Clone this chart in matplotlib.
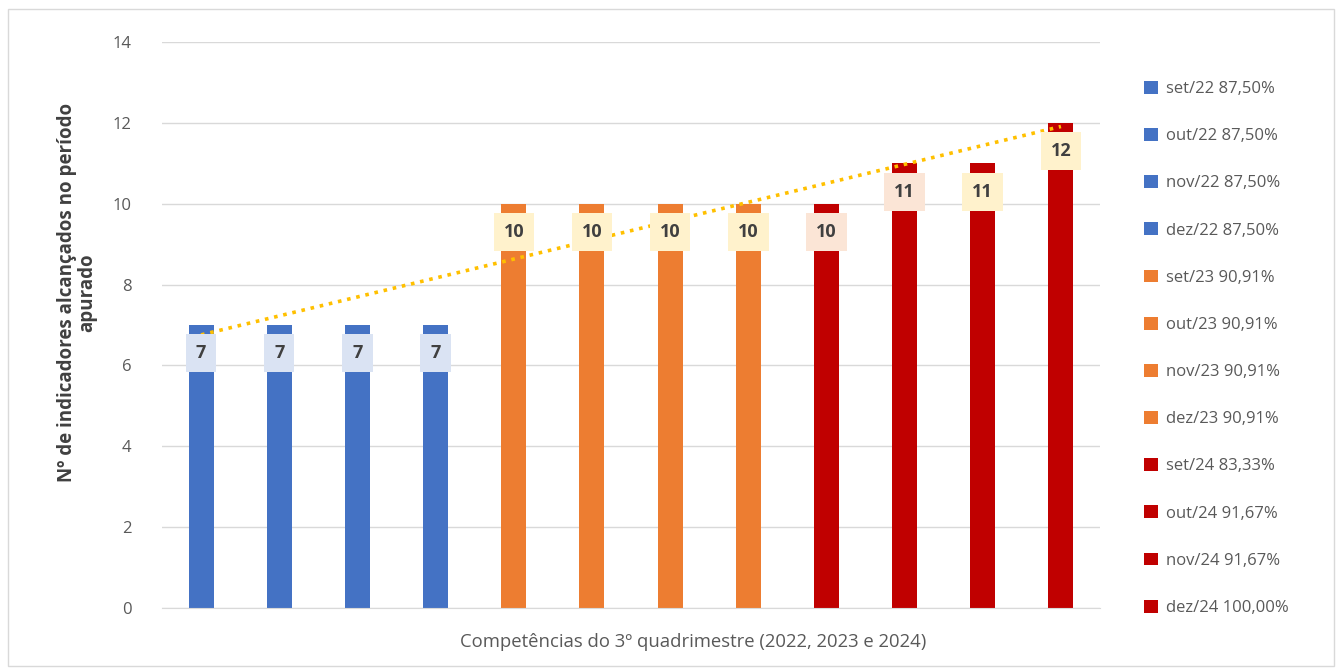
import matplotlib
matplotlib.use("Agg")
import matplotlib.pyplot as plt
import numpy as np
from matplotlib.patches import Patch, Rectangle

months = ["set/22", "out/22", "nov/22", "dez/22",
          "set/23", "out/23", "nov/23", "dez/23",
          "set/24", "out/24", "nov/24", "dez/24"]
percents = ["87,50%", "87,50%", "87,50%", "87,50%",
            "90,91%", "90,91%", "90,91%", "90,91%",
            "83,33%", "91,67%", "91,67%", "100,00%"]
values = [7, 7, 7, 7, 10, 10, 10, 10, 10, 11, 11, 12]
bar_colors = ["#4472c4"] * 4 + ["#ed7d31"] * 4 + ["#c00000"] * 4
label_bg = ["#dae3f3"] * 4 + ["#fff2cc"] * 4 + ["#fbe5d6", "#fbe5d6", "#fff2cc", "#fff2cc"]
yticks = [0, 2, 4, 6, 8, 10, 12, 14]

plt.rcParams['font.family'] = ['Open Sans', 'DejaVu Sans']

fig = plt.figure(figsize=(13.42, 6.71), dpi=100)
fig.patches.append(Rectangle((0.006, 0.008), 0.988, 0.978, transform=fig.transFigure,
                             fill=False, edgecolor="#d9d9d9", linewidth=1))
ax = fig.add_axes([0.1207, 0.0939, 0.699, 0.8435])

x = np.arange(len(values))
ax.bar(x, values, width=0.32, color=bar_colors, zorder=2)

# linear trendline
coef = np.polyfit(x, values, 1)
tx = np.array([x[0], x[-1]])
ax.plot(tx, np.polyval(coef, tx), linestyle=(0, (1, 1.6)), color="#ffc000",
        linewidth=2.6, zorder=3)

for xi, v, bg in zip(x, values, label_bg):
    ax.text(xi, v - 0.7, str(v), ha="center", va="center", fontsize=13,
            fontweight="bold", color="#404040", zorder=4,
            bbox=dict(boxstyle="square,pad=0.55", facecolor=bg, edgecolor="none"))

ax.set_xlim(-0.5, len(values) - 0.5)
ax.set_ylim(0, 14)
ax.set_yticks(yticks)
ax.set_xticks([])
ax.tick_params(axis="y", length=0, labelsize=12, labelcolor="#595959", pad=22)
ax.grid(axis="y", color="#d9d9d9", linewidth=1, zorder=0)
ax.set_axisbelow(True)
for s in ["top", "right", "left"]:
    ax.spines[s].set_visible(False)
ax.spines["bottom"].set_color("#d9d9d9")

ax.set_ylabel("Nº de indicadores alcançados no período\napurado", fontsize=13.5,
              fontweight="bold", color="#404040", linespacing=1.05,
              multialignment="center")
ax.yaxis.set_label_coords(-0.069, 0.557)
ax.set_xlabel("Competências do 3º quadrimestre (2022, 2023 e 2024)", fontsize=13.3,
              color="#595959")
ax.xaxis.set_label_coords(0.566, -0.045)

handles = [Patch(facecolor=c, edgecolor="none") for c in bar_colors]
labels = [f"{m} {p}" for m, p in zip(months, percents)]
leg = ax.legend(handles, labels, loc="upper left", bbox_to_anchor=(1.04, 0.943),
                frameon=False, fontsize=12, labelspacing=1.86, handlelength=0.8,
                handleheight=0.8, handletextpad=0.5, borderaxespad=0)
for t in leg.get_texts():
    t.set_color("#595959")

fig.savefig("out.png", dpi=100)
